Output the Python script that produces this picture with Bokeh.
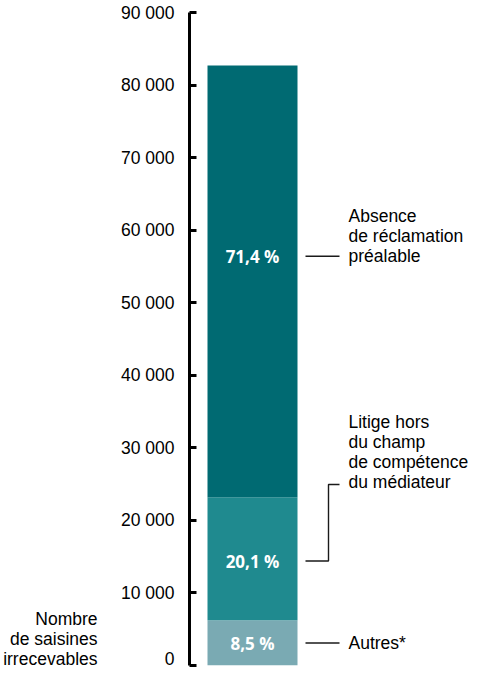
from bokeh.plotting import figure
from bokeh.models import Range1d, FixedTicker, Label
from bokeh.layouts import row
from bokeh.core.properties import value
from bokeh.embed import file_html
from bokeh.resources import INLINE

# ---- data ----
categories = ["Autres*", "Litige hors du champ de compétence du médiateur",
              "Absence de réclamation préalable"]
segment_values = [6250, 16950, 59500]
percent_labels = ["8,5 %", "20,1 %", "71,4 %"]
annotation_lines = [["Autres*"],
                    ["Litige hors", "du champ", "de compétence", "du médiateur"],
                    ["Absence", "de réclamation", "préalable"]]
tick_values = [0, 10000, 20000, 30000, 40000, 50000, 60000, 70000, 80000, 90000]
tick_labels = ["0", "10 000", "20 000", "30 000", "40 000", "50 000",
               "60 000", "70 000", "80 000", "90 000"]
axis_title_lines = ["Nombre", "de saisines", "irrecevables"]

# ---- layout / style constants ----
colors = ["#7AAAB3", "#1F8A8F", "#006A72"]
label_anchor_y = [3100, 14400, 56400]   # vertical anchor of % labels
litige_text_y = 24950                   # where the elbow connector ends
bar_x, bar_w = 63, 90
lead_x0, lead_x1, elbow_x, text_x = 116, 150, 139, 159
FONT = "Liberation Sans"
FS = "17.5px"
LINE_H = 20
LEFT_W = 110
H = 668

bottoms, tops, acc = [], [], 0
for v in segment_values:
    bottoms.append(acc)
    acc += v
    tops.append(acc)

# left panel: the axis title (pixel-like coordinates, measured from its bottom)
pl = figure(width=LEFT_W, height=H, output_backend="svg", toolbar_location=None,
            x_range=Range1d(0, LEFT_W), y_range=Range1d(0, H - 12),
            x_axis_location=None, y_axis_location=None,
            min_border_left=0, min_border_right=0,
            min_border_top=12, min_border_bottom=0)
pl.outline_line_color = None
pl.grid.visible = False
n = len(axis_title_lines)
for i, line in enumerate(axis_title_lines):
    pl.add_layout(Label(x=97, y=7 + (n - 1 - i) * LINE_H, text=line,
                        text_align="right", text_baseline="middle",
                        text_font=FONT, text_font_size=FS, text_color="black"))

# main panel
p = figure(width=478 - LEFT_W, height=H, output_backend="svg", toolbar_location=None,
           x_range=Range1d(0, 289), y_range=Range1d(0, 90000),
           x_axis_location=None, y_axis_location="left",
           min_border_left=189 - LEFT_W, min_border_right=0,
           min_border_top=12, min_border_bottom=3)
p.outline_line_color = None
p.grid.visible = False

ax = p.yaxis[0]
ax.ticker = FixedTicker(ticks=tick_values)
ax.major_label_overrides = {t: l for t, l in zip(tick_values, tick_labels)}
ax.axis_line_width = 3
ax.axis_line_color = "black"
ax.major_tick_line_width = 3
ax.major_tick_line_color = "black"
ax.major_tick_in = 7
ax.major_tick_out = 0
ax.minor_tick_line_color = None
ax.major_label_text_font = FONT
ax.major_label_text_font_size = FS
ax.major_label_text_color = "black"
ax.major_label_standoff = 15

p.vbar(x=[bar_x] * 3, width=bar_w, bottom=bottoms, top=tops,
       fill_color=colors, line_color=None)

p.text(x=[bar_x] * 3, y=label_anchor_y, text=percent_labels,
       text_align="center", text_baseline="middle", text_color="white",
       text_font=value("Open Sans"), text_font_style="bold", text_font_size="17px")

# leader lines
xs = [[lead_x0, lead_x1], [lead_x0, elbow_x, elbow_x, lead_x1], [lead_x0, lead_x1]]
ys = [[label_anchor_y[0]] * 2,
      [label_anchor_y[1], label_anchor_y[1], litige_text_y, litige_text_y],
      [label_anchor_y[2]] * 2]
p.multi_line(xs=xs, ys=ys, line_color="#1a1a1a", line_width=1.4)

text_anchor_y = [label_anchor_y[0], litige_text_y, label_anchor_y[2]]
extra = [0, 2, 0]
for lines, ay, ex in zip(annotation_lines, text_anchor_y, extra):
    n = len(lines)
    for i, line in enumerate(lines):
        p.add_layout(Label(x=text_x, y=ay, text=line, y_offset=ex + (n - 1 - i) * LINE_H,
                           text_align="left", text_baseline="middle",
                           text_font=FONT, text_font_size=FS, text_color="black"))

layout = row(pl, p, spacing=0)
open("out.html", "w").write(file_html(layout, INLINE))
